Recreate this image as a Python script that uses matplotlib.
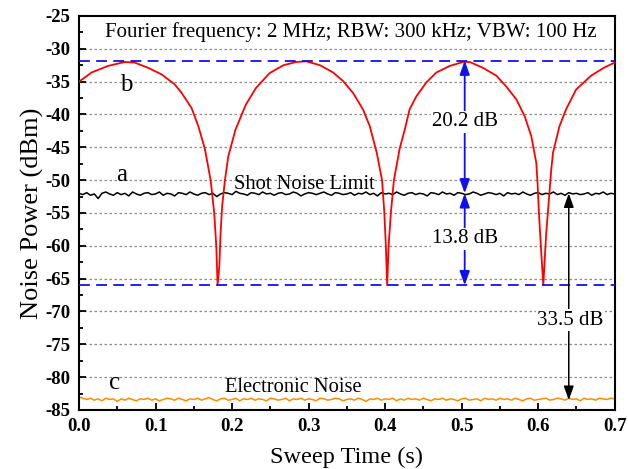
import numpy as np
import matplotlib
matplotlib.use('Agg')
import matplotlib.pyplot as plt

plt.rcParams['font.family'] = ['Liberation Serif', 'DejaVu Serif']
plt.rcParams['axes.unicode_minus'] = False

# trace b: signal
t_signal = [0.000, 0.0165, 0.038, 0.060, 0.073, 0.0905, 0.108, 0.125, 0.134, 0.147,
            0.156, 0.1646, 0.172, 0.1767, 0.1794, 0.1811, 0.1833, 0.185, 0.187, 0.1907,
            0.195, 0.2045, 0.218, 0.231, 0.249, 0.267, 0.284, 0.297, 0.315, 0.332,
            0.345, 0.358, 0.371, 0.380, 0.389, 0.396, 0.399, 0.401, 0.4027, 0.4045,
            0.4075, 0.4115, 0.419, 0.4257, 0.432, 0.441, 0.454, 0.467, 0.4845, 0.502,
            0.5106, 0.528, 0.5455, 0.558, 0.5715, 0.5825, 0.591, 0.5976, 0.599, 0.601,
            0.6035, 0.6067, 0.6085, 0.6105, 0.614, 0.617, 0.6194, 0.6278, 0.6365, 0.6496,
            0.669, 0.6855, 0.698, 0.700]
p_signal = [-35.0, -33.6, -32.6, -32.0, -32.1, -32.9, -33.9, -35.4, -36.7, -39.0,
            -41.8, -45.3, -50.0, -55.0, -60.1, -66.0, -63.2, -58.1, -54.0, -50.0,
            -46.4, -42.3, -38.5, -36.0, -33.7, -32.5, -32.0, -31.9, -32.5, -33.6,
            -34.9, -36.7, -39.2, -41.8, -45.8, -50.0, -55.0, -60.1, -66.0, -60.1,
            -55.0, -50.0, -45.2, -42.3, -39.2, -37.2, -35.1, -33.6, -32.6, -32.0,
            -32.0, -32.9, -34.1, -35.7, -37.7, -40.3, -43.3, -47.4, -50.0, -55.0,
            -60.0, -66.0, -62.2, -58.1, -53.0, -48.5, -45.8, -41.8, -39.2, -36.2,
            -34.1, -32.9, -32.2, -32.1]

# trace a: shot noise limit
p_shot = [-52.0, -52.2, -51.9, -52.3, -52.1, -52.8, -52.0, -51.8, -52.1, -52.3,
          -51.9, -52.2, -52.0, -52.4, -51.8, -52.1, -52.3, -52.0, -51.9, -52.2,
          -52.1, -51.8, -52.3, -52.0, -52.1, -52.4, -51.9, -52.0, -52.2, -51.8,
          -52.1, -52.3, -52.0, -51.9, -52.2, -52.0, -52.5, -52.1, -51.9, -52.0,
          -52.2, -51.7, -52.0, -52.1, -52.3, -51.9, -52.0, -52.2, -51.8, -52.1,
          -52.0, -52.3, -52.0, -51.9, -52.2, -52.1, -51.8, -52.0, -52.4, -52.1,
          -51.9, -52.0, -52.2, -52.0, -51.8, -52.1, -52.3, -51.9, -52.0, -52.2,
          -52.1, -51.9, -52.3, -52.0, -52.1, -51.8, -52.2, -52.0, -52.4, -51.9,
          -52.1, -52.0, -52.2, -51.8, -52.1, -52.3, -52.0, -51.9, -52.2, -52.0,
          -52.1, -52.4, -51.9, -52.0, -52.2, -51.8, -52.1, -52.0, -52.3, -51.9,
          -52.0, -52.2, -52.1, -51.8, -52.0, -52.3, -52.1, -51.9, -52.0, -52.2,
          -52.0, -52.4, -51.9, -52.1, -52.0, -52.2, -51.8, -52.1, -52.3, -52.0,
          -51.9, -52.2, -52.0, -52.1, -51.8, -52.2, -52.0, -52.3, -51.9, -52.1,
          -52.0, -52.2, -52.1, -51.9, -52.3, -52.0, -52.1, -51.8, -52.2, -52.0, -52.1]

# trace c: electronic noise
p_elec = [-83.0, -83.2, -83.4, -83.2, -83.5, -83.3, -83.6, -83.2, -83.4, -83.3,
          -83.7, -83.3, -83.5, -83.2, -83.4, -83.6, -83.3, -83.4, -83.2, -83.5,
          -83.3, -83.6, -83.4, -83.2, -83.3, -83.5, -83.2, -83.4, -83.6, -83.3,
          -83.4, -83.2, -83.5, -83.3, -83.1, -83.4, -83.6, -83.3, -83.2, -83.5,
          -83.4, -83.2, -83.6, -83.3, -83.4, -83.2, -83.5, -83.3, -83.4, -83.6,
          -83.2, -83.3, -83.5, -83.4, -83.2, -83.6, -83.3, -83.4, -83.2, -83.5,
          -83.3, -83.4, -83.6, -83.2, -83.3, -83.5, -83.4, -83.2, -83.3, -83.6,
          -83.4, -83.3, -83.5, -83.2, -83.4, -83.7, -83.3, -83.4, -83.2, -83.5,
          -83.3, -83.4, -83.2, -83.6, -83.3, -83.5, -83.2, -83.4, -83.3, -83.5,
          -83.2, -83.4, -83.6, -83.3, -83.4, -83.2, -83.5, -83.3, -83.4, -83.6,
          -83.3, -83.2, -83.5, -83.4, -83.3, -83.6, -83.2, -83.4, -83.3, -83.5,
          -83.2, -83.4, -83.3, -83.5, -83.2, -83.4, -83.6, -83.3, -83.2, -83.5,
          -83.4, -83.3, -83.2, -83.5, -83.4, -83.2, -83.3, -83.5, -83.2, -83.4,
          -83.3, -83.6, -83.2, -83.4, -83.3, -83.5, -83.2, -83.3, -83.4, -83.2, -83.3]

t_shot = np.linspace(0, 0.7, len(p_shot))
t_elec = np.linspace(0, 0.7, len(p_elec))

level_top = -31.8
level_shot = -52.0
level_bottom = -66.0
level_elec = -83.5

fig = plt.figure(figsize=(6.28, 4.69), dpi=100)
ax = fig.add_axes([0.1258, 0.1258, 0.853, 0.8401])

for yg in range(-80, -25, 5):
    ax.axhline(yg, color='#8c8c8c', lw=0.9, ls=(0, (2, 2)), zorder=0)

ax.plot(t_elec, p_elec, color='#ff8c00', lw=1.1, zorder=2)
ax.plot(t_shot, p_shot, color='black', lw=1.1, zorder=2)
ax.plot(t_signal, p_signal, color='red', lw=1.3, zorder=3)

ax.axhline(level_top, color='#1010ee', lw=1.3, ls=(0, (6, 3.5)), zorder=4)
ax.axhline(level_bottom, color='#1010ee', lw=1.3, ls=(0, (6, 3.5)), zorder=4)

# arrows
arrow_blue = dict(arrowstyle='<|-|>,head_length=0.7,head_width=0.25', color='#1010ee', lw=1.3,
                  mutation_scale=12, shrinkA=0, shrinkB=0)
arrow_black = dict(arrowstyle='<|-|>,head_length=0.7,head_width=0.25', color='black', lw=1.1,
                   mutation_scale=12, shrinkA=0, shrinkB=0)
ax.annotate('', xy=(0.504, level_top), xytext=(0.504, level_shot), arrowprops=arrow_blue, zorder=5)
ax.annotate('', xy=(0.504, level_shot), xytext=(0.504, level_bottom), arrowprops=arrow_blue, zorder=5)
ax.annotate('', xy=(0.640, level_shot), xytext=(0.640, level_elec), arrowprops=arrow_black, zorder=5)

box = dict(facecolor='white', edgecolor='none', pad=1)
ax.text(0.505, -41.1, '20.2 dB', fontsize=15, ha='center', va='center', bbox=box, zorder=6)
ax.text(0.505, -58.9, '13.8 dB', fontsize=15, ha='center', va='center', bbox=box, zorder=6)
ax.text(0.642, -71.3, '33.5 dB', fontsize=15, ha='center', va='center', bbox=box, zorder=6)

ax.text(0.355, -27.4, 'Fourier frequency: 2 MHz; RBW: 300 kHz; VBW: 100 Hz',
        fontsize=15, ha='center', va='center')
ax.text(0.294, -50.6, 'Shot Noise Limit', fontsize=14.8, ha='center', va='center', zorder=1)
ax.text(0.280, -81.5, 'Electronic Noise', fontsize=14.8, ha='center', va='center', zorder=1)
ax.text(0.062, -35.5, 'b', fontsize=18, ha='center', va='center')
ax.text(0.056, -49.2, 'a', fontsize=18, ha='center', va='center')
ax.text(0.047, -80.9, 'c', fontsize=18, ha='center', va='center')

ax.set_xlim(0, 0.7)
ax.set_ylim(-85, -25)
ax.set_xticks(np.arange(0, 0.71, 0.1))
ax.set_xticks(np.arange(0.05, 0.7, 0.1), minor=True)
ax.set_yticks(np.arange(-85, -24, 5))
ax.set_yticks(np.arange(-82.5, -25, 5), minor=True)
ax.set_xticklabels(['%.1f' % v for v in np.arange(0, 0.71, 0.1)])
ax.tick_params(which='both', direction='in', top=False, right=False, width=1.3)
ax.tick_params(which='major', length=5, labelsize=13.5, pad=6)
ax.tick_params(which='minor', length=3)
for lab in ax.get_xticklabels() + ax.get_yticklabels():
    lab.set_fontweight('bold')
for s in ax.spines.values():
    s.set_linewidth(1.5)

ax.set_xlabel('Sweep Time (s)', fontsize=17.5, labelpad=8)
ax.set_ylabel('Noise Power (dBm)', fontsize=19, labelpad=1)

fig.savefig('out.png', dpi=100)
